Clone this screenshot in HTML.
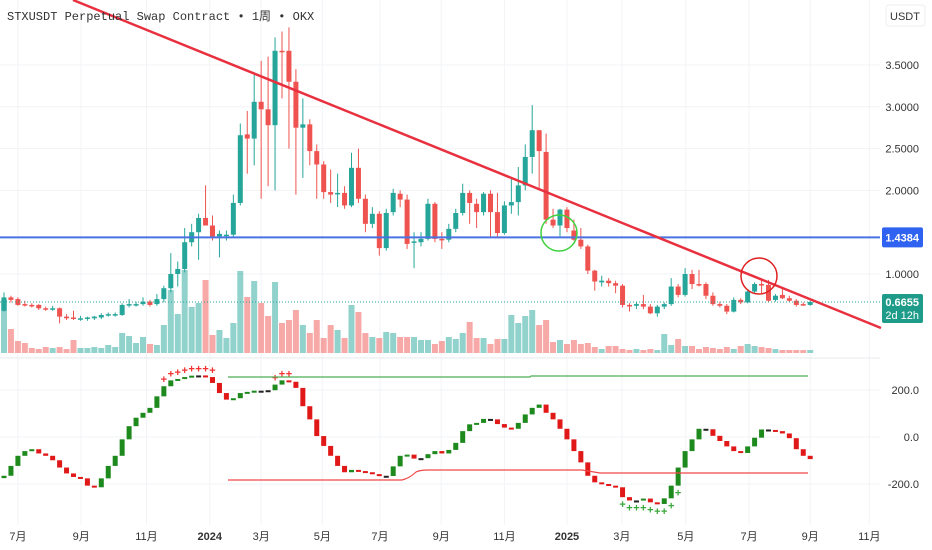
<!DOCTYPE html>
<html><head><meta charset="utf-8"><style>
html,body{margin:0;padding:0;background:#fff;width:932px;height:550px;overflow:hidden}
svg{display:block;font-family:"Liberation Sans","Noto Sans CJK SC",sans-serif}
</style></head><body>
<svg id="chart" width="932" height="550" viewBox="0 0 932 550" xmlns="http://www.w3.org/2000/svg">
<g id="grid"></g>
<g id="vol"></g>
<g id="candles"></g>
<g id="osc"></g>
<g id="overlay"></g>
<g id="axes"></g>
<text x="7" y="20" font-family="Liberation Mono, Noto Sans CJK SC, monospace" font-size="12" fill="#333">STXUSDT Perpetual Swap Contract • 1周 • OKX</text>
<rect x="886" y="5" width="39" height="21" rx="3" fill="#fff" stroke="#eee"/>
<text x="905" y="20" text-anchor="middle" font-size="11" fill="#333">USDT</text>
</svg>
<script>
const opens=[.56,.72,.70,.64,.63,.63,.59,.58,.59,.49,.48,.47,.47,.47,.48,.51,.51,.51,.63,.64,.64,.67,.64,.70,.83,1.0,1.06,1.38,1.50,1.67,1.58,1.45,1.47,1.47,1.85,2.67,2.62,3.06,2.97,2.78,3.67,3.67,3.30,2.75,2.79,2.47,2.31,1.98,1.96,1.97,1.82,2.27,1.90,1.60,1.72,1.31,1.74,1.96,1.89,1.38,1.38,1.42,1.84,1.42,1.41,1.54,1.73,1.97,1.84,1.74,1.96,1.74,1.49,1.82,1.86,2.06,2.40,2.72,2.46,1.65,1.58,1.77,1.52,1.41,1.33,1.04,.90,.92,.89,.86,.63,.62,.64,.61,.53,.61,.64,.85,.75,1.0,.88,.88,.74,.64,.62,.55,.69,.66,.79,.88,.87,.69,.75,.71,.68,.64,.63];
const highs=[.78,.74,.72,.68,.65,.64,.61,.62,.60,.52,.56,.50,.49,.50,.53,.54,.54,.65,.70,.67,.72,.69,.76,.86,1.25,1.15,1.55,1.60,1.72,2.06,1.70,1.52,1.52,1.95,2.80,2.95,3.38,3.55,3.60,3.83,3.90,3.95,3.45,3.10,2.85,2.55,2.35,2.25,2.20,2.05,2.45,2.50,1.95,1.80,1.75,1.78,2.02,2.0,1.95,1.50,1.50,1.90,1.86,1.50,1.60,1.78,2.08,2.00,1.90,1.98,2.00,1.97,1.87,2.15,2.28,2.55,3.02,2.72,2.68,1.78,1.78,1.80,1.65,1.55,1.35,1.05,.98,.95,.92,.88,.65,.66,.75,.64,.63,.66,.95,.88,1.07,1.05,1.05,.90,.78,.67,.64,.72,.71,.82,.90,.92,.93,.76,.82,.74,.70,.66,.68];
const lows=[.55,.66,.62,.61,.60,.57,.56,.56,.41,.45,.45,.44,.44,.45,.46,.49,.49,.50,.60,.61,.62,.61,.62,.66,.78,.85,1.02,1.33,1.17,1.60,1.40,1.20,1.40,1.44,1.82,2.20,2.30,1.90,2.05,2.0,3.10,2.50,1.95,2.15,2.30,1.90,1.90,1.85,1.80,1.78,1.80,1.85,1.50,1.55,1.22,1.28,1.70,1.80,1.30,1.07,1.33,1.40,1.38,1.30,1.38,1.50,1.70,1.60,1.55,1.70,1.45,1.45,1.47,1.72,1.70,2.00,2.20,2.00,1.60,1.55,1.45,1.50,1.40,1.30,1.00,.80,.85,.85,.77,.60,.55,.58,.58,.52,.49,.58,.62,.72,.73,.82,.85,.70,.62,.60,.52,.54,.64,.65,.76,.76,.66,.67,.70,.66,.61,.62,.62];
const closes=[.72,.69,.63,.63,.62,.59,.58,.59,.49,.47,.47,.47,.48,.49,.51,.52,.52,.63,.64,.64,.67,.63,.70,.83,1.0,1.06,1.38,1.50,1.67,1.58,1.45,1.48,1.47,1.85,2.66,2.62,3.06,2.97,2.78,3.67,3.66,3.30,2.75,2.79,2.47,2.31,1.98,1.95,1.97,1.82,2.27,1.90,1.60,1.72,1.31,1.73,1.97,1.89,1.36,1.39,1.42,1.84,1.42,1.41,1.54,1.73,1.97,1.85,1.74,1.96,1.74,1.49,1.82,1.86,2.06,2.40,2.72,2.47,1.65,1.58,1.77,1.55,1.41,1.33,1.04,.91,.92,.89,.86,.63,.62,.64,.61,.53,.61,.64,.85,.75,1.0,.88,.87,.74,.64,.62,.55,.69,.66,.79,.88,.87,.68,.74,.71,.68,.63,.63,.6655];
const volumes=[53,24,12,10,5,4,6,5,6,4,13,5,5,6,5,8,6,20,17,10,16,9,8,28,63,39,83,46,50,73,18,23,15,30,82,56,72,50,37,71,30,33,43,28,20,33,15,28,23,15,48,41,20,16,15,21,20,16,16,16,13,13,9,12,16,14,20,31,15,15,9,14,14,38,30,37,43,28,33,11,13,9,13,9,10,6,4,7,7,4,3,4,3,4,3,19,8,14,7,7,4,6,5,4,6,4,7,9,7,6,5,4,3,3,3,3,3];
const oscValues=[-165,-123,-80,-60,-52,-70,-80,-99,-130,-155,-170,-176,-207,-214,-176,-123,-80,-10,46,82,103,124,173,216,241,247,255,261,262,255,230,187,159,165,187,192,197,197,199,223,241,235,209,131,75,4,-38,-80,-123,-150,-140,-145,-150,-158,-165,-166,-125,-80,-75,-92,-90,-73,-60,-70,-55,-25,25,54,60,77,75,55,40,35,60,96,124,138,103,75,35,-10,-60,-108,-165,-193,-200,-207,-214,-256,-270,-270,-262,-278,-285,-261,-207,-130,-60,-10,35,33,5,-17,-40,-60,-68,-40,-3,32,30,25,15,-5,-52,-80,-94];
const redCrossIdx=[23,24,25,26,27,28,29,30,39,40,41];
const greenCrossIdx=[89,90,91,92,93,94,95,96,97];
const priceTicks=["1.0000","2.0000","2.5000","3.0000","3.5000"];
const priceTickValues=[1,2,2.5,3,3.5];
const oscTicks=["200.0","0.0","-200.0"];
const oscTickValues=[200,0,-200];
const monthLabels=["7月","9月","11月","2024","3月","5月","7月","9月","11月","2025","3月","5月","7月","9月","11月"];
const monthWeek=[2,11.1,20.5,29.6,37,45.8,54.1,62.9,72,81,88.9,98.1,107.2,116,124.5];

const NS="http://www.w3.org/2000/svg";
function el(tag,attrs,parent){const e=document.createElementNS(NS,tag);for(const k in attrs)e.setAttribute(k,attrs[k]);parent.appendChild(e);return e;}
const X=i=>4+i*6.95;
const Y=p=>274-(p-1)*83.6;
const VY=v=>353-v;
const OY=v=>437-v*0.235;
const G="#26a69a",R="#ef5350";
const grid=document.getElementById('grid'),vol=document.getElementById('vol'),cg=document.getElementById('candles'),osc=document.getElementById('osc'),ov=document.getElementById('overlay'),ax=document.getElementById('axes');

monthWeek.forEach((w,k)=>{
 let l=el('line',{x1:X(w),x2:X(w),y1:0,y2:525,stroke:'#f2f3f6','stroke-width':1},grid);
 
 
 let t=el('text',{x:X(w),y:540,'text-anchor':'middle','font-size':11,fill:'#333','font-weight':monthLabels[k].length===4?'bold':'normal'},ax);
 t.textContent=monthLabels[k];
 
 
});
priceTickValues.forEach((v,k)=>{
 let l=el('line',{x1:0,x2:880,y1:Y(v),y2:Y(v),stroke:'#f2f3f6'},grid);
 
 
 let t=el('text',{x:919,y:Y(v)+4,'text-anchor':'end','font-size':11,fill:'#333'},ax);
 t.textContent=priceTicks[k];
 
 
});
oscTickValues.forEach((v,k)=>{
 let l=el('line',{x1:0,x2:880,y1:OY(v),y2:OY(v),stroke:'#f2f3f6'},grid);
 
 
 let t=el('text',{x:919,y:OY(v)+4,'text-anchor':'end','font-size':11,fill:'#333'},ax);
 t.textContent=oscTicks[k];
 
 
});
let sep=el('line',{x1:0,x2:880,y1:358,y2:358,stroke:'#e6e8ee'},grid);



volumes.forEach((v,i)=>{
 const up=closes[i]>=opens[i];
 let r=el('rect',{x:X(i)-3,y:VY(v),width:6,height:v,fill:up?'rgba(38,166,154,0.5)':'rgba(239,83,80,0.5)'},vol);
 
 
});
let dl=el('line',{x1:0,x2:880,y1:Y(closes[closes.length-1]),y2:Y(closes[closes.length-1]),stroke:G,'stroke-dasharray':'1 2','stroke-width':1},ov);



opens.forEach((o,i)=>{
 const c=closes[i],up=c>=o,col=up?G:R;
 let w=el('line',{x1:X(i),x2:X(i),y1:Y(highs[i]),y2:Y(lows[i]),stroke:col,'stroke-width':1},cg);
 
 
 const t=Math.min(Y(o),Y(c)),h=Math.max(1.5,Math.abs(Y(o)-Y(c)));
 let b=el('rect',{x:X(i)-2.5,y:t,width:5,height:h,fill:col},cg);
 
 
});

oscValues.forEach((v,i)=>{
 const p=i>0?oscValues[i-1]:v-10, up=v>=p;
 const t=Math.min(OY(v),OY(p)),h=Math.max(2,Math.abs(OY(v)-OY(p)));
 const col=Math.abs(v-p)<4?'#222':(up?'#1e8a1e':'#e01818');
 let b=el('rect',{x:X(i)-2.5,y:t,width:5,height:h,fill:col},osc);
 
 
});
redCrossIdx.forEach(i=>{
 let t=el('text',{x:X(i),y:OY(Math.max(oscValues[i],oscValues[i-1]))-3,'text-anchor':'middle','font-size':11,'font-weight':'bold',fill:'#f23030'},osc);
 t.textContent='+';
 
 
});
greenCrossIdx.forEach(i=>{
 let t=el('text',{x:X(i),y:OY(Math.min(oscValues[i],oscValues[i-1]))+11,'text-anchor':'middle','font-size':11,'font-weight':'bold',fill:'#3aa83a'},osc);
 t.textContent='+';
 
 
});
let gl=el('path',{d:'M228 377 L530 377 L531 376 L808 376',stroke:'#4caf50','stroke-width':1.2,fill:'none'},osc);


let rl=el('path',{d:'M228 480 L402 480 Q410 478 416 472 Q420 470 428 470 L582 470 L600 473 L808 473',stroke:'#f04848','stroke-width':1.2,fill:'none'},osc);



let bl=el('line',{x1:0,x2:880,y1:Y(1.4384),y2:Y(1.4384),stroke:'#4a72e0','stroke-width':2},ov);


let tl=el('line',{x1:73,y1:0,x2:881,y2:328,stroke:'#e8303f','stroke-width':2.5},ov);


let c1=el('circle',{cx:559,cy:233,r:18,fill:'none',stroke:'#3ed23e','stroke-width':1.5},ov);


let c2=el('circle',{cx:759,cy:276,r:18,fill:'none',stroke:'#e02020','stroke-width':1.5},ov);



let bb=el('rect',{x:882,y:Y(1.4384)-10,width:41,height:20,rx:2,fill:'#2f62f0'},ax);


let bt=el('text',{x:919,y:Y(1.4384)+4,'text-anchor':'end','font-size':11,fill:'#fff','font-weight':'bold'},ax);
bt.textContent='1.4384';


let gb=el('rect',{x:882,y:294,width:41,height:29,rx:2,fill:'#1f9b8a'},ax);


let gt=el('text',{x:919,y:306,'text-anchor':'end','font-size':11,fill:'#fff','font-weight':'bold'},ax);
gt.textContent='0.6655';


let gt2=el('text',{x:919,y:319,'text-anchor':'end','font-size':11,fill:'#fff'},ax);
gt2.textContent='2d 12h';


</script>
</body></html>
